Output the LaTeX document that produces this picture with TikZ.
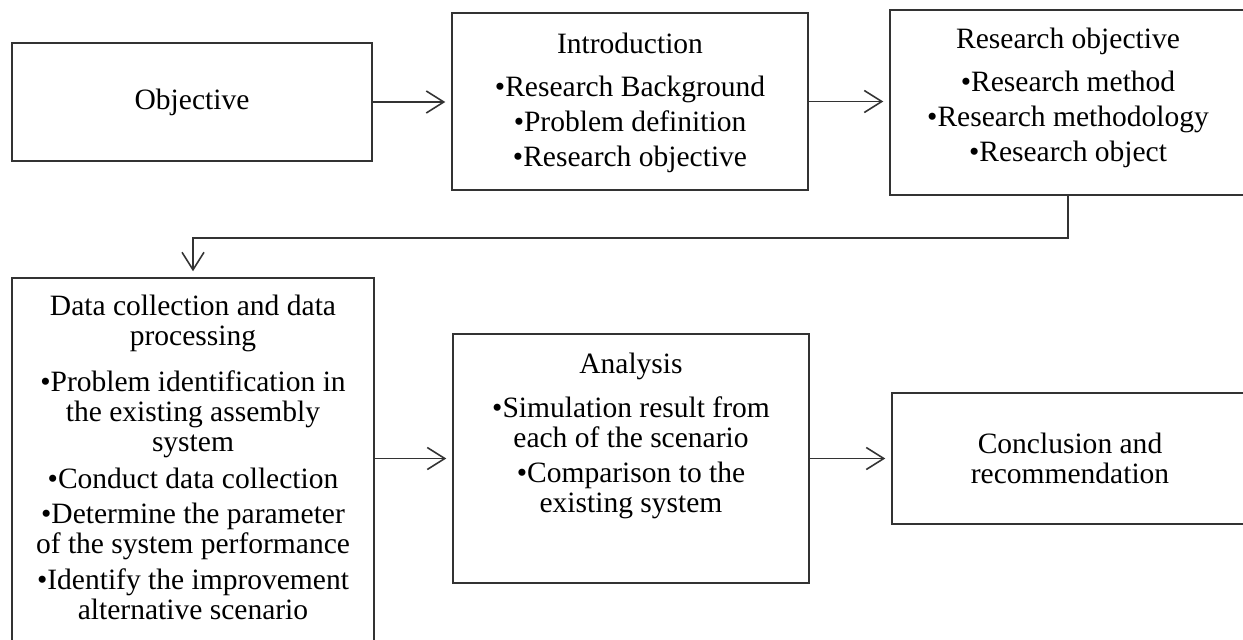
\documentclass[tikz,border=0pt]{standalone}
\usepackage{fontspec}
\setmainfont{Liberation Serif}
\usetikzlibrary{arrows.meta}
\tikzset{
  box/.style = {draw=black!80, line width=0.9pt, minimum width=7.12cm, align=center,
                font=\fontsize{16.8}{17}\selectfont},
  txt/.style = {align=center, inner sep=0pt, anchor=north, font=\fontsize{16.8}{17}\selectfont},
  link/.style = {draw=black!80, line width=0.9pt, -{Straight Barb[length=3.5mm,width=4.4mm]}, shorten >=1.2mm}
}

\begin{document}
\begin{tikzpicture}[x=0.02cm, y=-0.02cm]
            \useasboundingbox (0,0) rectangle (1243,639);
            \clip (0,0) rectangle (1243,639);
            \fill[white] (0,0) rectangle (1243,639);

            \node[box, minimum width=7.2cm, minimum height=2.36cm] (obj) at (192,102) {Objective};
            \node[box, minimum height=3.54cm] (intro) at (630,101.5) {};
            \node[txt] (introtxt) at (630,33) {Introduction\\[7pt] •Research Background\\[3pt] •Problem definition\\[3pt] •Research objective};
            \node[box, minimum height=3.7cm] (resobj) at (1068,102.5) {};
            \node[txt] (resobjtxt) at (1068,28) {Research objective\\[7pt] •Research method\\[3pt] •Research methodology\\[3pt] •Research object};

            \node[box, minimum width=7.24cm, minimum height=7.64cm] (data) at (193,469) {};
            \node[txt] (datatxt) at (193,295) {Data collection and data\\ processing\\[9pt] •Problem identification in\\ the existing assembly\\ system\\[4pt] •Conduct data collection\\[3pt] •Determine the parameter\\ of the system performance\\[4pt] •Identify the improvement\\ alternative scenario};
            \node[box, minimum height=4.98cm] (ana) at (631,458.5) {};
            \node[txt] (anatxt) at (631,353) {Analysis\\[8pt] •Simulation result from\\ each of the scenario\\[3pt] •Comparison to the\\ existing system};
            \node[box, minimum height=2.62cm] (concl) at (1070,458.5) {Conclusion and\\ recommendation};

            \draw[link] (obj.east) -- (obj.east -| intro.west);
            \draw[link] (intro.east) -- (intro.east -| resobj.west);
            \draw[link] (resobj.south) -- ++(0,42) -| (data.north);
            \draw[link] (ana.west -| data.east) -- (ana.west);
            \draw[link] (ana.east) -- (concl.west);
        \end{tikzpicture}
\end{document}
